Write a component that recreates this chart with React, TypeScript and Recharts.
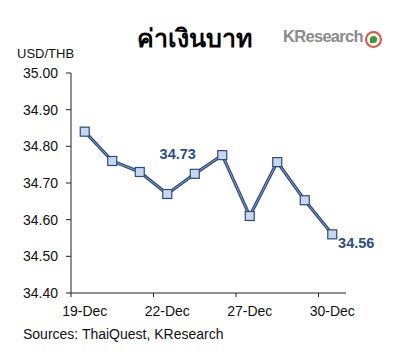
import { LineChart, Line, XAxis, YAxis, LabelList } from 'recharts';

const dates = ['19-Dec', '20-Dec', '21-Dec', '22-Dec', '23-Dec', '26-Dec', '27-Dec', '28-Dec', '29-Dec', '30-Dec'];
const usdThb = [34.84, 34.76, 34.73, 34.67, 34.725, 34.776, 34.61, 34.757, 34.653, 34.56];
const callouts = ['', '', '', '', '34.73', '', '', '', '', '34.56'];
const yTicks = [34.4, 34.5, 34.6, 34.7, 34.8, 34.9, 35.0];

const data = dates.map((d, i) => ({ date: d, rate: usdThb[i], note: callouts[i] }));

const FONT = 'Arial, "Liberation Sans", sans-serif';
const DARK = '#2c4a7c';

const XTick = (props: any) => {
  const { x, y, payload } = props;
  if (payload.index % 3 !== 0) return null;
  const half = payload.offset || 13.75;
  return (
    <g>
      <line x1={x - half} x2={x - half} y1={y} y2={y + 4} stroke="#222" strokeWidth={1} />
      <text x={x} y={y + 23} textAnchor="middle" fontSize={14} fill="#111" fontFamily={FONT}>
        {payload.value}
      </text>
    </g>
  );
};

const Square = (props: any) => {
  const { cx, cy } = props;
  if (cx == null || cy == null) return null;
  return <rect x={cx - 4.5} y={cy - 4.5} width={9} height={9} fill="#c6d7ef" stroke={DARK} strokeWidth={1.2} />;
};

const Callout = (props: any) => {
  const { x, y, value, index } = props;
  if (!value) return null;
  const last = index === dates.length - 1;
  const dx = last ? 24 : -17;
  const dy = last ? 14 : -15;
  return (
    <text x={x + dx} y={y + dy} textAnchor="middle" fontSize={14.5} fontWeight="bold" fill="#2b4f86" fontFamily={FONT}>
      {value}
    </text>
  );
};

export default function App() {
  return (
    <div style={{ position: 'relative', width: 394, height: 364, background: '#fff', fontFamily: FONT }}>
      <style>{'body{margin:0}'}</style>
      <div style={{ position: 'absolute', left: 0, width: 388, top: 18, textAlign: 'center', fontSize: 25, fontWeight: 'bold', color: '#000', fontFamily: '"Noto Sans", sans-serif' }}>
        ค่าเงินบาท
      </div>
      <div style={{ position: 'absolute', left: 283, top: 27, fontSize: 16.5, fontWeight: 'bold', color: '#8a8a8a', letterSpacing: -0.7 }}>
        KResearch
      </div>
      <div style={{ position: 'absolute', left: 365, top: 31, width: 13, height: 13, borderRadius: '50%', border: '2px solid #d9534f', background: '#eef7e8' }}>
        <div style={{ position: 'absolute', left: 3, top: 3, width: 7, height: 7, borderRadius: '50% 50% 50% 0', background: '#3a9a3a' }} />
      </div>
      <div style={{ position: 'absolute', left: 17, top: 46, fontSize: 13, color: '#111' }}>USD/THB</div>
      <div style={{ position: 'absolute', left: 23, top: 326, fontSize: 14, color: '#111' }}>Sources: ThaiQuest, KResearch</div>
      <LineChart width={394} height={364} data={data} margin={{ top: 73, right: 48, bottom: 41, left: 8 }}>
        <XAxis
          dataKey="date"
          scale="band"
          interval={0}
          tick={<XTick />}
          tickLine={false}
          tickSize={0}
          tickMargin={0}
          height={30}
          axisLine={{ stroke: '#222', strokeWidth: 1 }}
        />
        <YAxis
          domain={[34.4, 35.0]}
          ticks={yTicks}
          width={63}
          tickSize={5}
          tickMargin={8}
          tickFormatter={(v: number) => v.toFixed(2)}
          tick={{ fontSize: 14, fill: '#111', fontFamily: FONT }}
          tickLine={{ stroke: '#222' }}
          axisLine={{ stroke: '#222', strokeWidth: 1 }}
          allowDataOverflow
        />
        <Line type="linear" dataKey="rate" stroke={DARK} strokeWidth={3.2} dot={false} activeDot={false} isAnimationActive={false} />
        <Line type="linear" dataKey="rate" stroke="#9fb6d8" strokeWidth={0.8} dot={<Square />} activeDot={false} isAnimationActive={false}>
          <LabelList dataKey="note" content={<Callout />} />
        </Line>
      </LineChart>
    </div>
  );
}
